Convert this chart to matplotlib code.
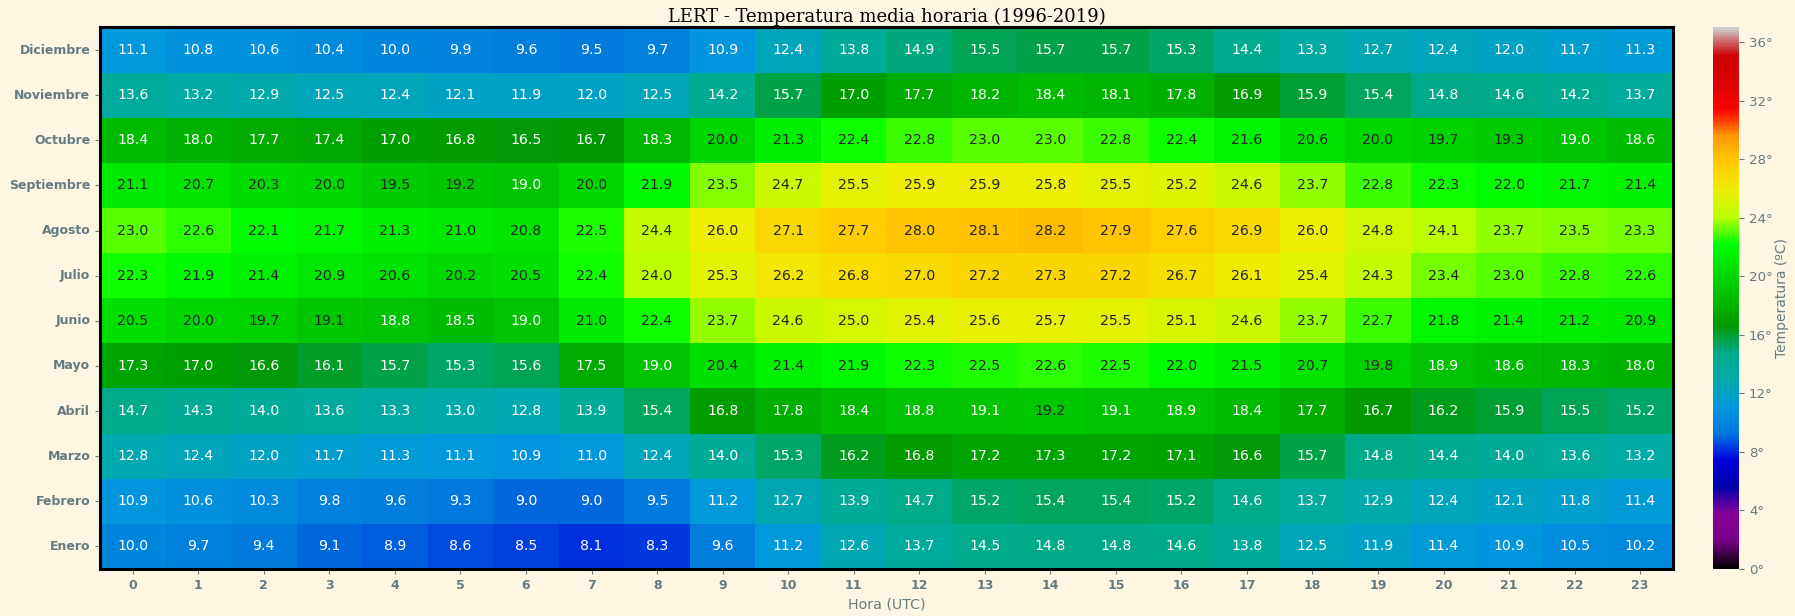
import matplotlib
matplotlib.use("Agg")
import matplotlib.pyplot as plt
import seaborn as sns
import numpy as np

hours = list(range(24))
months = ["Diciembre", "Noviembre", "Octubre", "Septiembre", "Agosto", "Julio",
          "Junio", "Mayo", "Abril", "Marzo", "Febrero", "Enero"]

diciembre = [11.1, 10.8, 10.6, 10.4, 10.0, 9.9, 9.6, 9.5, 9.7, 10.9, 12.4, 13.8, 14.9, 15.5, 15.7, 15.7, 15.3, 14.4, 13.3, 12.7, 12.4, 12.0, 11.7, 11.3]
noviembre = [13.6, 13.2, 12.9, 12.5, 12.4, 12.1, 11.9, 12.0, 12.5, 14.2, 15.7, 17.0, 17.7, 18.2, 18.4, 18.1, 17.8, 16.9, 15.9, 15.4, 14.8, 14.6, 14.2, 13.7]
octubre = [18.4, 18.0, 17.7, 17.4, 17.0, 16.8, 16.5, 16.7, 18.3, 20.0, 21.3, 22.4, 22.8, 23.0, 23.0, 22.8, 22.4, 21.6, 20.6, 20.0, 19.7, 19.3, 19.0, 18.6]
septiembre = [21.1, 20.7, 20.3, 20.0, 19.5, 19.2, 19.0, 20.0, 21.9, 23.5, 24.7, 25.5, 25.9, 25.9, 25.8, 25.5, 25.2, 24.6, 23.7, 22.8, 22.3, 22.0, 21.7, 21.4]
agosto = [23.0, 22.6, 22.1, 21.7, 21.3, 21.0, 20.8, 22.5, 24.4, 26.0, 27.1, 27.7, 28.0, 28.1, 28.2, 27.9, 27.6, 26.9, 26.0, 24.8, 24.1, 23.7, 23.5, 23.3]
julio = [22.3, 21.9, 21.4, 20.9, 20.6, 20.2, 20.5, 22.4, 24.0, 25.3, 26.2, 26.8, 27.0, 27.2, 27.3, 27.2, 26.7, 26.1, 25.4, 24.3, 23.4, 23.0, 22.8, 22.6]
junio = [20.5, 20.0, 19.7, 19.1, 18.8, 18.5, 19.0, 21.0, 22.4, 23.7, 24.6, 25.0, 25.4, 25.6, 25.7, 25.5, 25.1, 24.6, 23.7, 22.7, 21.8, 21.4, 21.2, 20.9]
mayo = [17.3, 17.0, 16.6, 16.1, 15.7, 15.3, 15.6, 17.5, 19.0, 20.4, 21.4, 21.9, 22.3, 22.5, 22.6, 22.5, 22.0, 21.5, 20.7, 19.8, 18.9, 18.6, 18.3, 18.0]
abril = [14.7, 14.3, 14.0, 13.6, 13.3, 13.0, 12.8, 13.9, 15.4, 16.8, 17.8, 18.4, 18.8, 19.06, 19.2, 19.06, 18.9, 18.4, 17.7, 16.7, 16.2, 15.9, 15.5, 15.2]
marzo = [12.8, 12.4, 12.0, 11.7, 11.3, 11.1, 10.9, 11.0, 12.4, 14.0, 15.3, 16.2, 16.8, 17.2, 17.3, 17.2, 17.1, 16.6, 15.7, 14.8, 14.4, 14.0, 13.6, 13.2]
febrero = [10.9, 10.6, 10.3, 9.8, 9.6, 9.3, 9.0, 9.0, 9.5, 11.2, 12.7, 13.9, 14.7, 15.2, 15.4, 15.4, 15.2, 14.6, 13.7, 12.9, 12.4, 12.1, 11.8, 11.4]
enero = [10.0, 9.7, 9.4, 9.1, 8.9, 8.6, 8.5, 8.1, 8.3, 9.6, 11.2, 12.6, 13.7, 14.5, 14.8, 14.8, 14.6, 13.8, 12.5, 11.9, 11.4, 10.9, 10.5, 10.2]

data = np.array([diciembre, noviembre, octubre, septiembre, agosto, julio,
                 junio, mayo, abril, marzo, febrero, enero])

cbar_ticks = list(range(0, 37, 4))

BG = "#FDF6E3"
TXT = "#657b83"

fig = plt.figure(figsize=(17.95, 6.16), dpi=100, facecolor=BG)
ax = fig.add_axes([0.0557, 0.0763, 0.8763, 0.8791])
cax = fig.add_axes([0.9541, 0.0763, 0.0148, 0.8791])

sns.heatmap(data, ax=ax, cbar_ax=cax, cmap="nipy_spectral", vmin=0, vmax=37,
            annot=True, fmt=".1f", annot_kws={"size": 10.2},
            xticklabels=hours, yticklabels=months)

ax.set_facecolor(BG)
for s in ax.spines.values():
    s.set_visible(True)
    s.set_linewidth(2.2)
    s.set_color("black")

ax.tick_params(axis="both", length=3.5, width=0.8, color=TXT, labelcolor=TXT, labelsize=9)
for lab in ax.get_xticklabels():
    lab.set_fontweight("bold")
    lab.set_rotation(0)
for lab in ax.get_yticklabels():
    lab.set_fontweight("bold")
    lab.set_rotation(0)

ax.set_xlabel("Hora (UTC)", color=TXT, fontsize=10.2, labelpad=4)
ax.set_title("LERT - Temperatura media horaria (1996-2019)", family="DejaVu Serif",
             fontsize=13, color="black", pad=4)

cb = ax.collections[0].colorbar
cb.set_ticks(cbar_ticks)
cb.set_ticklabels([f"{t}°" for t in cbar_ticks])
cb.ax.tick_params(labelsize=9.6, labelcolor=TXT, color=TXT, length=3.5, width=0.8)
cb.outline.set_linewidth(0)
cb.set_label("Temperatura (ºC)", color=TXT, fontsize=10, labelpad=2)

fig.savefig("out.png", dpi=100, facecolor=BG)
